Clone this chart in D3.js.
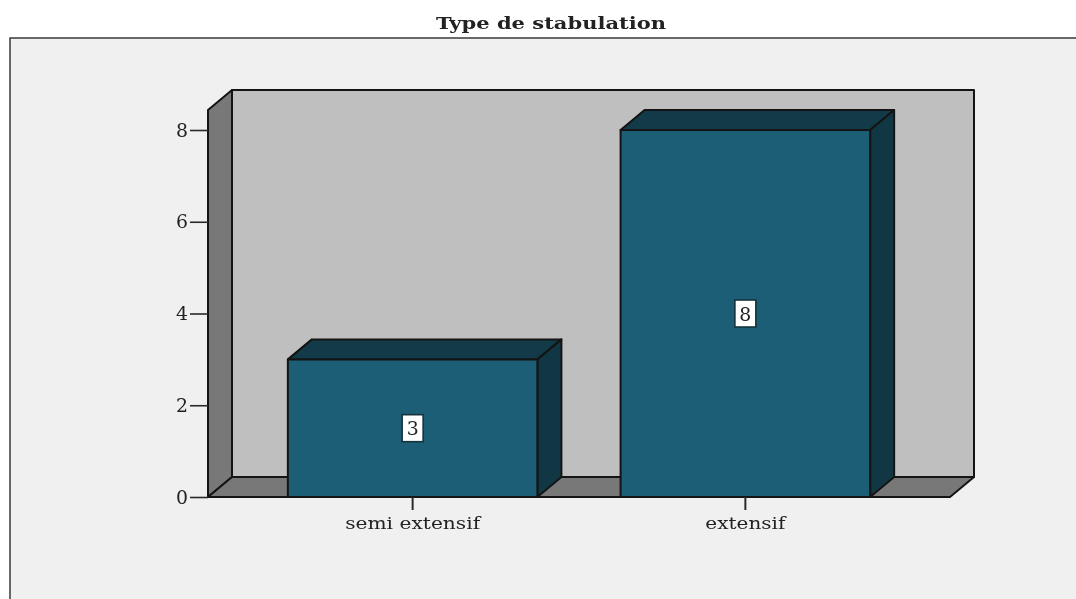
<!DOCTYPE html>
<html><head><meta charset="utf-8">
<script src="https://cdnjs.cloudflare.com/ajax/libs/d3/7.8.5/d3.min.js"></script>
<style>
html,body{margin:0;padding:0;background:#fff;overflow:hidden}
svg{display:block;filter:blur(0.4px)}
text{font-family:"DejaVu Serif",serif;fill:#222}
</style></head><body>
<script>
const title = "Type de stabulation";
const categories = ["semi extensif", "extensif"];
const values = [3, 8];
const yTicks = [0, 2, 4, 6, 8];
const yTop = 8.436;

const W = 1076, H = 599;
const plotLeft = 208, plotRight = 950, plotBottom = 497, plotTop = 110, dx = 24, dy = -20;
const line = "#141414";

const x = d3.scaleBand().domain(categories).range([plotLeft, plotRight]).paddingInner(0.25).paddingOuter(0.24);
const y = d3.scaleLinear().domain([0, yTop]).range([plotBottom, plotTop]);

const svg = d3.select("body").append("svg").attr("width", W).attr("height", H);
svg.append("rect").attr("x", 10).attr("y", 38).attr("width", W).attr("height", H)
  .attr("fill", "#f0f0f0").attr("stroke", "#3a3a3a").attr("stroke-width", 1.5);

svg.append("text").attr("x", 551).attr("y", 29).attr("text-anchor", "middle")
  .attr("font-size", 16).attr("font-weight", "bold").attr("fill", "#111")
  .attr("textLength", 230).attr("lengthAdjust", "spacingAndGlyphs").text(title);

const poly = (pts, fill) => svg.append("polygon").attr("points", pts.map(p => p.join(",")).join(" "))
  .attr("fill", fill).attr("stroke", line).attr("stroke-width", 2).attr("stroke-linejoin", "round");

poly([[plotLeft + dx, plotTop + dy], [plotRight + dx, plotTop + dy], [plotRight + dx, plotBottom + dy], [plotLeft + dx, plotBottom + dy]], "#bfbfbf");
poly([[plotLeft, plotTop], [plotLeft + dx, plotTop + dy], [plotLeft + dx, plotBottom + dy], [plotLeft, plotBottom]], "#787878");
poly([[plotLeft, plotBottom], [plotLeft + dx, plotBottom + dy], [plotRight + dx, plotBottom + dy], [plotRight, plotBottom]], "#787878");

const barG = svg.selectAll("g.bar").data(categories.map((c, i) => ({c, v: values[i]}))).join("g").attr("class", "bar");
barG.each(function(d) {
  const x0 = x(d.c), x1 = x0 + x.bandwidth(), yt = y(d.v);
  poly([[x0, yt], [x0 + dx, yt + dy], [x1 + dx, yt + dy], [x1, yt]], "#133a48");
  poly([[x1, yt], [x1 + dx, yt + dy], [x1 + dx, plotBottom + dy], [x1, plotBottom]], "#113744");
  poly([[x0, yt], [x1, yt], [x1, plotBottom], [x0, plotBottom]], "#1c5e75");
  const cx = x0 + x.bandwidth() / 2, cy = y(d.v / 2);
  svg.append("rect").attr("x", cx - 10.5).attr("y", cy - 13.5).attr("width", 21).attr("height", 27)
    .attr("fill", "#fff").attr("stroke", "#15323d").attr("stroke-width", 1.6);
  svg.append("text").attr("x", cx).attr("y", cy + 7).attr("text-anchor", "middle")
    .attr("font-size", 19).attr("fill", "#444")
    .attr("textLength", 12).attr("lengthAdjust", "spacingAndGlyphs").text(d.v);
});

const yAxis = svg.append("g").attr("transform", `translate(${plotLeft},0)`)
  .call(d3.axisLeft(y).tickValues(yTicks).tickSize(18).tickPadding(2).tickFormat(d3.format("d")));
yAxis.select(".domain").remove();
yAxis.selectAll("line").attr("stroke", "#2a2a2a").attr("stroke-width", 1.6);
yAxis.selectAll("text").attr("font-size", 19).attr("font-family", '"DejaVu Serif",serif').attr("fill", "#555")
  .attr("textLength", 12).attr("lengthAdjust", "spacingAndGlyphs");

const xAxis = svg.append("g").attr("transform", `translate(0,${plotBottom})`)
  .call(d3.axisBottom(x).tickSize(13).tickPadding(7));
xAxis.select(".domain").remove();
xAxis.selectAll("line").attr("stroke", "#2a2a2a").attr("stroke-width", 2);
xAxis.selectAll("text").attr("font-size", 16.5).attr("font-family", '"DejaVu Serif",serif').attr("fill", "#2a2a2a")
  .attr("textLength", d => d === categories[0] ? 135 : 80).attr("lengthAdjust", "spacingAndGlyphs");
</script>
</body></html>
